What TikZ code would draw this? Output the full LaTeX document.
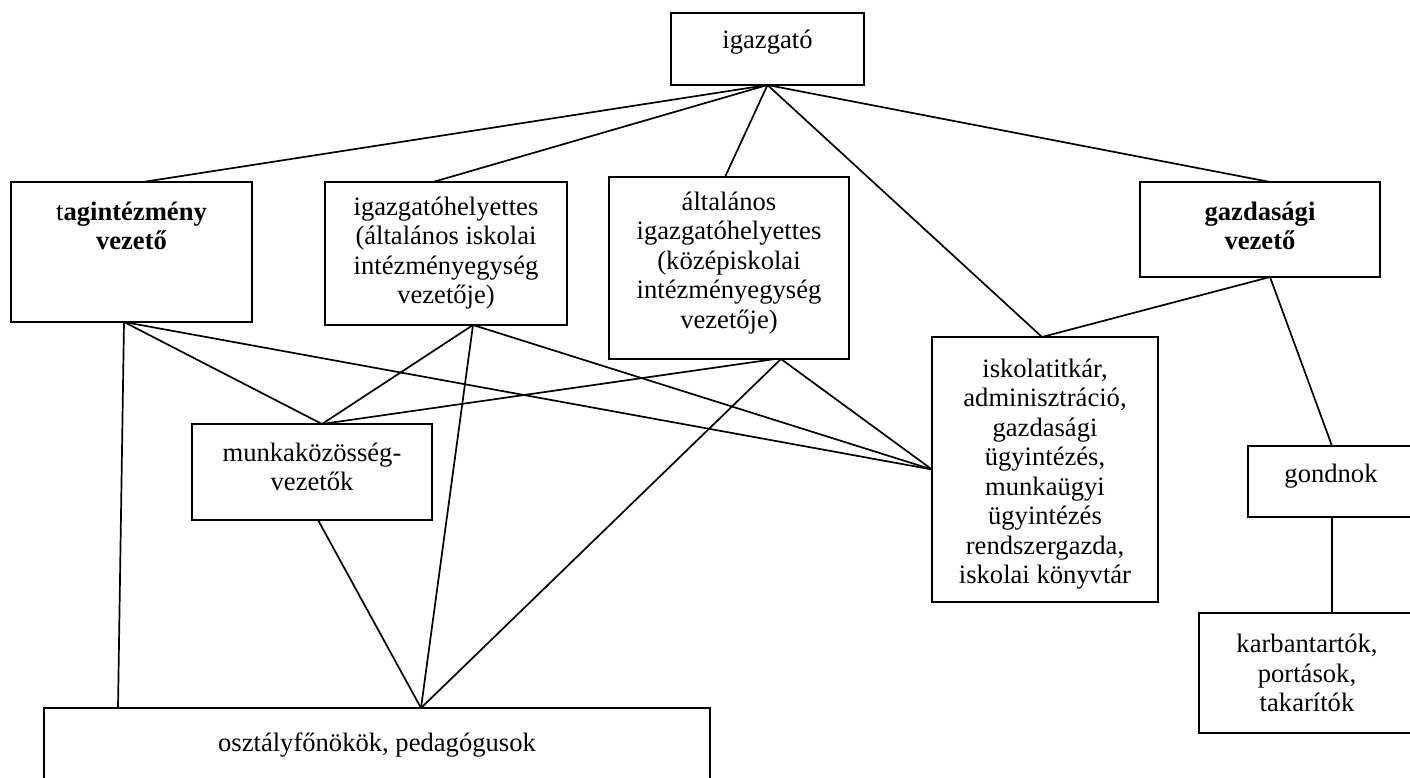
\documentclass[tikz,border=0pt]{standalone}
\usepackage{fontspec}
\setmainfont{Liberation Serif}
\begin{document}
\begin{tikzpicture}[x=1pt,y=-1pt,
  box/.style={draw,line width=2pt,inner sep=0pt,outer sep=0pt,rectangle},
  txt/.style={align=center,inner sep=0pt,font=\fontsize{26.6}{29.5}\selectfont},
  link/.style={line width=1.7pt}]
\clip (0,0) rectangle (1410,778);
\fill[white] (0,0) rectangle (1410,778);
% boxes
\node[box,minimum width=193pt,minimum height=72pt] (igz) at (767.5,49) {};
\node[txt] (igzT) at (767.5,42) {igazgató};
\node[box,minimum width=241pt,minimum height=140pt] (tag) at (131.5,252) {};
\node[txt] (tagT) at (131.5,226) {t\textbf{agintézmény}\\\textbf{vezető}};
\node[box,minimum width=242pt,minimum height=143pt] (ihe) at (446,253.5) {};
\node[txt] (iheT) at (446,253) {igazgatóhelyettes\\(általános iskolai\\intézményegység\\vezetője)};
\node[box,minimum width=240pt,minimum height=182pt] (alt) at (729,268) {};
\node[txt] (altT) at (729,263) {általános\\igazgatóhelyettes\\(középiskolai\\intézményegység\\vezetője)};
\node[box,minimum width=240pt,minimum height=95pt] (gaz) at (1260,229.5) {};
\node[txt] (gazT) at (1260,226) {\textbf{gazdasági}\\\textbf{vezető}};
\node[box,minimum width=226pt,minimum height=265pt] (isk) at (1045,469.5) {};
\node[txt] (iskT) at (1045,474) {iskolatitkár,\\adminisztráció,\\gazdasági\\ügyintézés,\\munkaügyi\\ügyintézés\\rendszergazda,\\iskolai könyvtár};
\node[box,minimum width=240pt,minimum height=96pt] (mun) at (312,472) {};
\node[txt] (munT) at (312,467) {munkaközösség-\\vezetők};
\node[box,minimum width=168pt,minimum height=71pt] (gon) at (1332,481.5) {};
\node[txt] (gonT) at (1331,476) {gondnok};
\node[box,minimum width=217pt,minimum height=120pt] (kar) at (1307.5,673) {};
\node[txt] (karT) at (1307,673) {karbantartók,\\portások,\\takarítók};
\node[box,minimum width=666pt,minimum height=92pt] (osz) at (377,754) {};
\node[txt] (oszT) at (377,745) {osztályfőnökök, pedagógusok};
% connectors
\draw[link] (igz.south) -- ([xshift=11.5pt]tag.north);
\draw[link] (igz.south) -- ([xshift=-13pt]ihe.north);
\draw[link] (igz.south) -- ([xshift=-4pt]alt.north);
\draw[link] (igz.south) -- ([xshift=-3pt]isk.north);
\draw[link] (igz.south) -- ([xshift=10pt]gaz.north);
\draw[link] ([xshift=10pt]gaz.south) -- ([xshift=-3pt]isk.north);
\draw[link] ([xshift=10pt]gaz.south) -- (gon.north);
\draw[link] (gon.south) -- ([xshift=24.5pt]kar.north);
\draw[link] ([xshift=-7.5pt]tag.south) -- ([xshift=-259pt]osz.north);
\draw[link] ([xshift=-7.5pt]tag.south) -- ([xshift=10pt]mun.north);
\draw[link] ([xshift=-7.5pt]tag.south) -- (isk.west);
\draw[link] ([xshift=27pt]ihe.south) -- ([xshift=10pt]mun.north);
\draw[link] ([xshift=27pt]ihe.south) -- ([xshift=44pt]osz.north);
\draw[link] ([xshift=27pt]ihe.south) -- (isk.west);
\draw[link] ([xshift=46pt]alt.south) -- ([xshift=10pt]mun.north);
\draw[link] ([xshift=52pt]alt.south) -- ([xshift=44pt]osz.north);
\draw[link] ([xshift=52pt]alt.south) -- (isk.west);
\draw[link] ([xshift=6pt]mun.south) -- ([xshift=44pt]osz.north);
\end{tikzpicture}
\end{document}
